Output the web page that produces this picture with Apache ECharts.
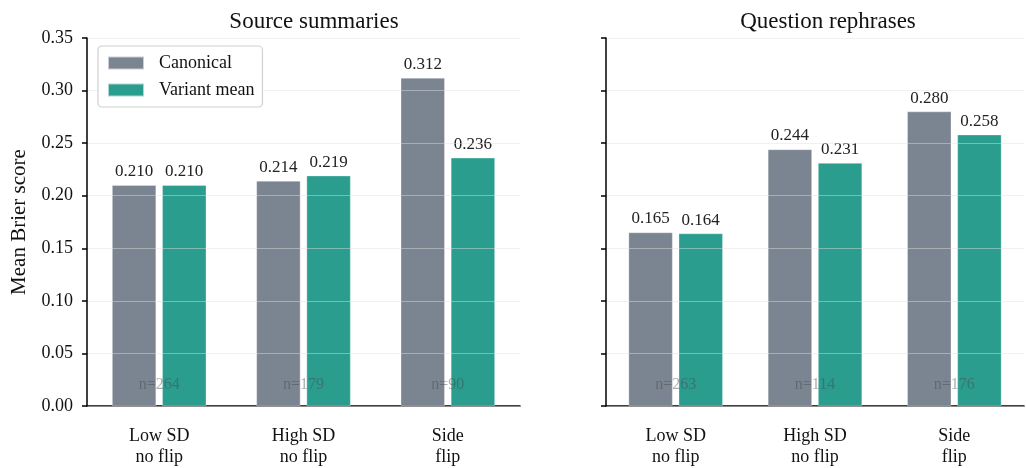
<!DOCTYPE html>
<html>
<head>
<meta charset="utf-8">
<script src="https://cdn.jsdelivr.net/npm/echarts@6/dist/echarts.min.js"></script>
<style>
  html, body { margin: 0; padding: 0; background: #fff; }
  #chart { width: 1026px; height: 468px; }
</style>
</head>
<body>
<div id="chart"></div>
<script>
const categories = ["Low SD\nno flip", "High SD\nno flip", "Side\nflip"];
const panelTitles = ["Source summaries", "Question rephrases"];

const sourceCanonical = [0.210, 0.214, 0.312];
const sourceVariant = [0.210, 0.219, 0.236];
const sourceN = [264, 179, 90];

const rephraseCanonical = [0.165, 0.244, 0.280];
const rephraseVariant = [0.164, 0.231, 0.258];
const rephraseN = [263, 114, 176];

const FONT = "Liberation Serif";
const GREY = "#7b8591";
const TEAL = "#2a9d8f";

const chart = echarts.init(document.getElementById("chart"));

function barSeries(name, data, idx, color) {
  return {
    name: name,
    type: "bar",
    xAxisIndex: idx,
    yAxisIndex: idx,
    data: data,
    barWidth: 44,
    barGap: "14%",
    itemStyle: { color: color, borderColor: "rgba(255,255,255,0.6)", borderWidth: 0.5 },
    label: {
      show: true,
      position: "top",
      distance: 5,
      color: "#222",
      fontFamily: FONT,
      fontSize: 17,
      formatter: (p) => p.value.toFixed(3),
    },
    z: 2,
  };
}

// n= labels sit near the bottom of each group
function countSeries(counts, idx) {
  return {
    type: "scatter",
    xAxisIndex: idx,
    yAxisIndex: idx,
    symbolSize: 0,
    silent: true,
    data: counts.map((n, i) => [i, 0.02, n]),
    label: {
      show: true,
      position: "inside",
      color: "rgba(70,70,70,0.55)",
      fontFamily: FONT,
      fontSize: 16,
      formatter: (p) => "n=" + p.value[2],
    },
    z: 5,
  };
}

const grids = [
  { left: 87, right: 506, top: 38, bottom: 61 },
  { left: 606, right: 2, top: 38, bottom: 61 },
];

const xAxes = grids.map((g, i) => ({
  type: "category",
  gridIndex: i,
  data: categories,
  axisLine: { lineStyle: { color: "#000", width: 1.5 } },
  axisTick: { alignWithLabel: true, length: 5, lineStyle: { color: "#000", width: 1.5 } },
  axisLabel: {
    color: "#111",
    fontFamily: FONT,
    fontSize: 18,
    lineHeight: 21,
    margin: 20,
  },
}));

const yAxes = grids.map((g, i) => ({
  type: "value",
  gridIndex: i,
  min: 0,
  max: 0.35,
  interval: 0.05,
  name: i === 0 ? "Mean Brier score" : "",
  nameLocation: "middle",
  nameGap: 57,
  nameTextStyle: { color: "#111", fontFamily: FONT, fontSize: 21 },
  axisLine: { show: true, lineStyle: { color: "#000", width: 1.5 } },
  axisTick: { show: true, length: 5, lineStyle: { color: "#000", width: 1.5 } },
  axisLabel: {
    show: i === 0,
    color: "#111",
    fontFamily: FONT,
    fontSize: 18,
    margin: 14,
    formatter: (v) => v.toFixed(2),
  },
  splitLine: { show: true, lineStyle: { color: "rgba(225,225,225,0.45)", width: 1 } },
  z: 3,
}));

const option = {
  backgroundColor: "#fff",
  animation: false,
  title: panelTitles.map((t, i) => ({
    text: t,
    left: i === 0 ? 309 : 823,
    top: 5,
    textAlign: "center",
    textStyle: { color: "#111", fontFamily: FONT, fontSize: 23, fontWeight: "normal" },
  })),
  legend: {
    left: 98,
    top: 46,
    orient: "vertical",
    data: ["Canonical", "Variant mean"],
    icon: "rect",
    itemWidth: 36,
    itemHeight: 13,
    itemGap: 9,
    padding: [8, 8, 8, 9],
    backgroundColor: "#fff",
    borderColor: "#d0d0d0",
    borderWidth: 1.2,
    borderRadius: 4,
    textStyle: { color: "#111", fontFamily: FONT, fontSize: 18, padding: [0, 0, 0, 10] },
    z: 10,
  },
  grid: grids,
  xAxis: xAxes,
  yAxis: yAxes,
  series: [
    barSeries("Canonical", sourceCanonical, 0, GREY),
    barSeries("Variant mean", sourceVariant, 0, TEAL),
    countSeries(sourceN, 0),
    barSeries("Canonical", rephraseCanonical, 1, GREY),
    barSeries("Variant mean", rephraseVariant, 1, TEAL),
    countSeries(rephraseN, 1),
  ],
};

chart.setOption(option);
</script>
</body>
</html>
